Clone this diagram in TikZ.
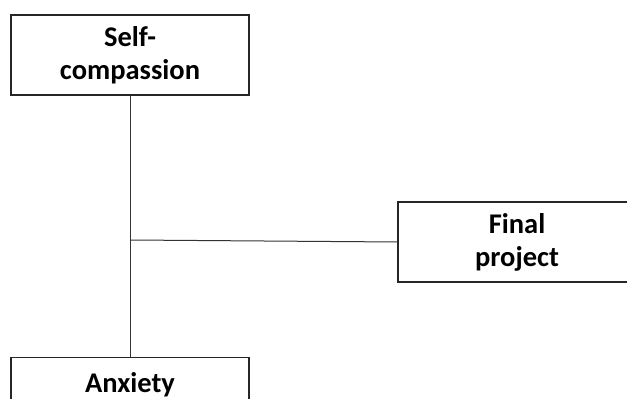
\documentclass[tikz,border=0pt]{standalone}
\usepackage{fontspec}
\setmainfont{Carlito}
\begin{document}
\begin{tikzpicture}[x=1pt,y=1pt,
  box/.style={draw=black!85, line width=1.1pt, fill=white, minimum width=238pt, minimum height=80pt,
    align=center, font=\bfseries\fontsize{28.5}{33}\selectfont, inner sep=0pt},
  link/.style={draw=black!80, line width=1pt}]
\useasboundingbox (0,0) rectangle (627,399);
\clip (0,0) rectangle (627,399);
\fill[white] (0,0) rectangle (627,399);
\node[box] (s) at (130,344) {Self-\\compassion};
\node[box] (f) at (517,157) {Final\\project};
\node[box, anchor=north, minimum height=0pt, text height=18pt, text depth=44pt, inner ysep=17pt] (a) at (130,42) {Anxiety};
\coordinate (j) at (130,159);
\draw[link] (s.south) -- (a.north);
\draw[link] (j) -- (f.west);
\end{tikzpicture}
\end{document}
